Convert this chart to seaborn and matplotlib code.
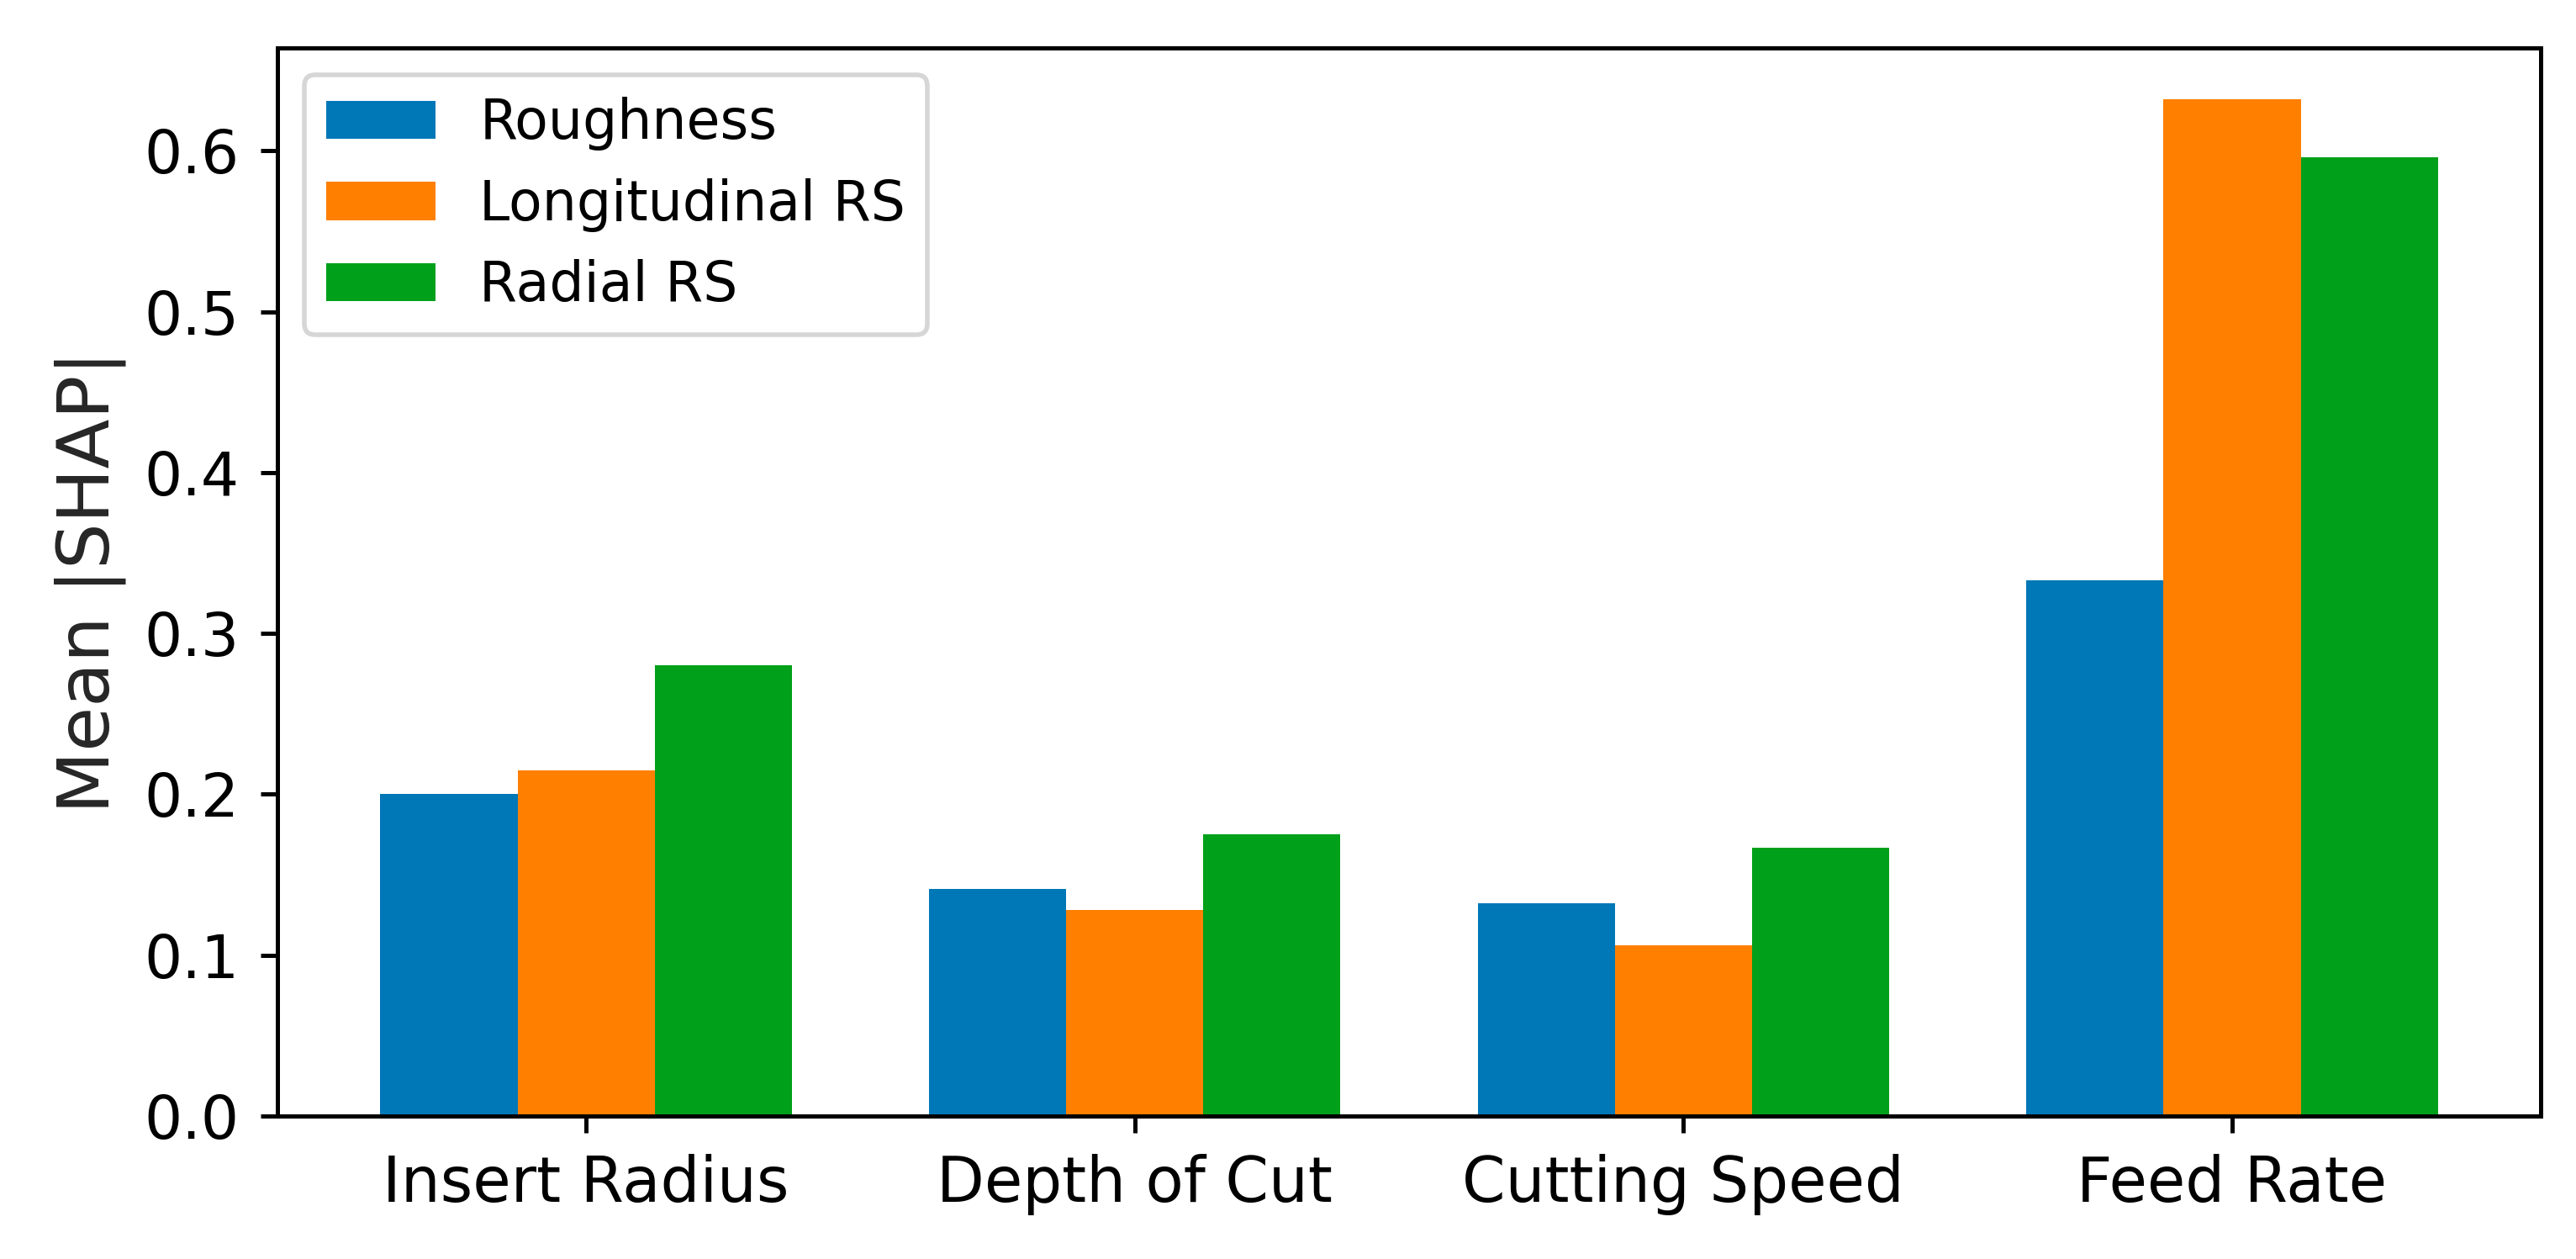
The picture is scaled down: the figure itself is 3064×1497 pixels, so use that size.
import pandas as pd
import matplotlib.pyplot as plt
import seaborn as sns

features = ["Insert Radius", "Depth of Cut", "Cutting Speed", "Feed Rate"]
roughness = [0.200, 0.141, 0.132, 0.333]
longitudinal_rs = [0.215, 0.128, 0.106, 0.632]
radial_rs = [0.280, 0.175, 0.167, 0.596]
series_names = ["Roughness", "Longitudinal RS", "Radial RS"]
colors = ["#0077b6", "#ff7f00", "#00a01a"]

df = pd.DataFrame({
    "Feature": features * 3,
    "Target": [s for s in series_names for _ in features],
    "Value": roughness + longitudinal_rs + radial_rs,
})

sns.set_style("ticks", {"axes.edgecolor": "black", "xtick.color": "black",
                        "ytick.color": "black", "text.color": "black"})
plt.rcParams['font.family'] = ['DejaVu Sans']

fig = plt.figure(figsize=(7.66, 3.7425), dpi=400)
ax = fig.add_axes([0.1077, 0.1136, 0.8786, 0.8484])

sns.barplot(data=df, x="Feature", y="Value", hue="Target",
            palette=colors, width=0.75, gap=0, saturation=1,
            linewidth=0, ax=ax)

ax.set_xlim(-0.5625, 3.5625)
ax.set_ylim(0, 0.664)
ax.set_yticks([0.0, 0.1, 0.2, 0.3, 0.4, 0.5, 0.6])
ax.set_xlabel("")
ax.set_ylabel("Mean |SHAP|", fontsize=15.5)
ax.tick_params(length=3.6, width=0.9, pad=4.5)
ax.tick_params(axis="x", labelsize=13.3)
ax.tick_params(axis="y", labelsize=12.8)
for s in ax.spines.values():
    s.set_linewidth(0.9)

sns.move_legend(ax, "upper left", title=None, fontsize=11.7, frameon=True)

fig.savefig("out.png", dpi=400)
